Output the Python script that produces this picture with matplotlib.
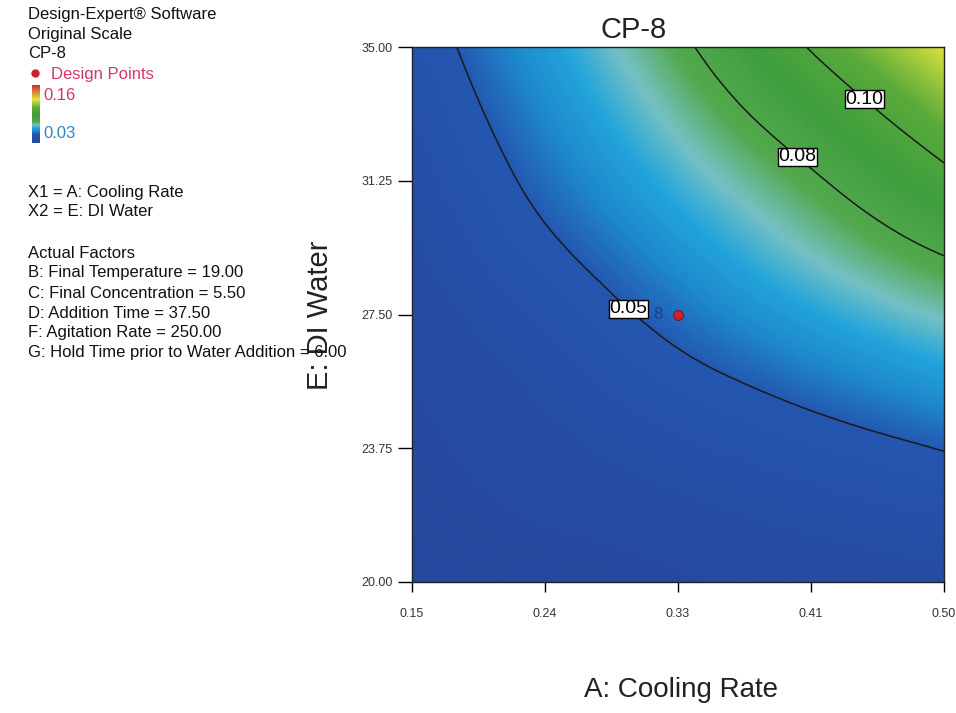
import matplotlib
matplotlib.use("Agg")
import matplotlib.pyplot as plt
import matplotlib.tri as mtri
import numpy as np
from matplotlib.colors import LinearSegmentedColormap
from matplotlib.lines import Line2D

plt.rcParams['font.family'] = ['Liberation Sans', 'DejaVu Sans']

# response CP-8 on a coarse grid
cooling_rate = [0.15, 0.22, 0.29, 0.36, 0.43, 0.50]
di_water = [20.0, 23.0, 26.0, 29.0, 32.0, 35.0]
cp8 = [
    [0.0300, 0.0310, 0.0320, 0.0340, 0.0355, 0.0370],
    [0.0320, 0.0350, 0.0380, 0.0410, 0.0440, 0.0470],
    [0.0340, 0.0390, 0.0453, 0.0510, 0.0565, 0.0620],
    [0.0370, 0.0455, 0.0535, 0.0620, 0.0705, 0.0790],
    [0.0410, 0.0515, 0.0620, 0.0730, 0.0857, 0.1020],
    [0.0450, 0.0570, 0.0700, 0.0860, 0.1060, 0.1250],
]
contour_levels = [0.05, 0.08, 0.10]
label_spots = [(0.2935, 27.71), (0.406, 32.06), (0.449, 33.6)]
design_x = [0.325]
design_y = [27.5]
design_reps = ['8']
x_ticks = [0.15, 0.2375, 0.325, 0.4125, 0.50]
x_tick_labels = ['0.15', '0.24', '0.33', '0.41', '0.50']
y_ticks = [20.0, 23.75, 27.5, 31.25, 35.0]
y_tick_labels = ['20.00', '23.75', '27.50', '31.25', '35.00']
z_min, z_max = 0.03, 0.16

side_text = [
    ('Design-Expert® Software', 15),
    ('Original Scale', 34),
    ('CP-8', 53),
    ('X1 = A: Cooling Rate', 193),
    ('X2 = E: DI Water', 212),
    ('Actual Factors', 253),
    ('B: Final Temperature = 19.00', 273),
    ('C: Final Concentration = 5.50', 293),
    ('D: Addition Time = 37.50', 313),
    ('F: Agitation Rate = 250.00', 333),
    ('G: Hold Time prior to Water Addition = 6.00', 353),
]

W, H = 956, 713
cmap = LinearSegmentedColormap.from_list('de', [
    (0.0, '#26479c'), (0.15, '#2456b0'), (0.20, '#1e88cc'),
    (0.25, '#22a4da'), (0.30, '#74c0c4'), (0.36, '#54a84e'),
    (0.46, '#3e9e3e'), (0.60, '#5aaa3a'), (0.74, '#e2e43c'),
    (1.0, '#d0203a')])

fig = plt.figure(figsize=(W / 100, H / 100), dpi=100)
ax = fig.add_axes([412 / W, 1 - 582 / H, 532 / W, 535 / H])

gx, gy = np.meshgrid(cooling_rate, di_water)
tri = mtri.Triangulation(gx.ravel(), gy.ravel())
refiner = mtri.UniformTriRefiner(tri)
tri_f, z_f = refiner.refine_field(np.array(cp8).ravel(), subdiv=4)

ax.tricontourf(tri_f, z_f, levels=np.linspace(z_min, z_max, 261),
               cmap=cmap, vmin=z_min, vmax=z_max, antialiased=False)
cs = ax.tricontour(tri_f, z_f, levels=contour_levels, colors='#1a1a1a',
                   linewidths=1.1)

ax.text(0.312, 27.50, design_reps[0], color='#1c3f8c', fontsize=12,
        ha='center', va='center', zorder=4)
ax.scatter(design_x, design_y, s=50, color='#d2202c', edgecolor='#6a1010',
           linewidth=0.6, zorder=5)

labels = ax.clabel(cs, fmt='%.2f', manual=label_spots, inline=False,
                   fontsize=14, colors='black')
for t in labels:
    t.set_rotation(0)
    t.set_bbox(dict(facecolor='white', edgecolor='black', pad=0.4, lw=1))
    t.set_zorder(6)

ax.set_xlim(0.15, 0.50)
ax.set_ylim(20, 35)
ax.set_xticks(x_ticks, x_tick_labels)
ax.set_yticks(y_ticks, y_tick_labels)
ax.tick_params(axis='x', direction='out', length=7, width=1, pad=12,
               labelsize=9, labelcolor='#333333')
ax.tick_params(axis='y', direction='out', length=10, width=1, pad=4,
               labelsize=9, labelcolor='#333333')
for s in ax.spines.values():
    s.set_linewidth(1)
    s.set_color('#222222')

fig.text(634 / W, 1 - 30 / H, 'CP-8', ha='center', va='center',
         fontsize=21, color='#222222')
fig.text(681 / W, 1 - 690 / H, 'A: Cooling Rate', ha='center', va='center',
         fontsize=20, color='#222222')
fig.text(320 / W, 1 - 315 / H, 'E: DI Water', ha='center', va='center',
         rotation=90, fontsize=21, color='#222222')

for txt, py in side_text:
    fig.text(28 / W, 1 - py / H, txt, ha='left', va='center',
             fontsize=12, color='#111111')

# legend: design points and little colour bar
fig.add_artist(Line2D([35 / W], [1 - 73 / H], marker='o', markersize=5,
                      color='#d2202c', transform=fig.transFigure))
fig.text(51 / W, 1 - 74 / H, 'Design Points', ha='left', va='center',
         fontsize=12, color='#d03a64')
cax = fig.add_axes([32 / W, 1 - 143 / H, 8 / W, 58 / H])
cax.imshow(np.linspace(z_min, z_max, 100).reshape(-1, 1), cmap=cmap,
           aspect='auto', origin='lower')
cax.set_axis_off()
fig.text(43 / W, 1 - 96 / H, '0.16', ha='left', va='center',
         fontsize=12, color='#d03a64')
fig.text(43 / W, 1 - 133 / H, '0.03', ha='left', va='center',
         fontsize=12, color='#2a86c4')

fig.savefig('out.png', dpi=100)
